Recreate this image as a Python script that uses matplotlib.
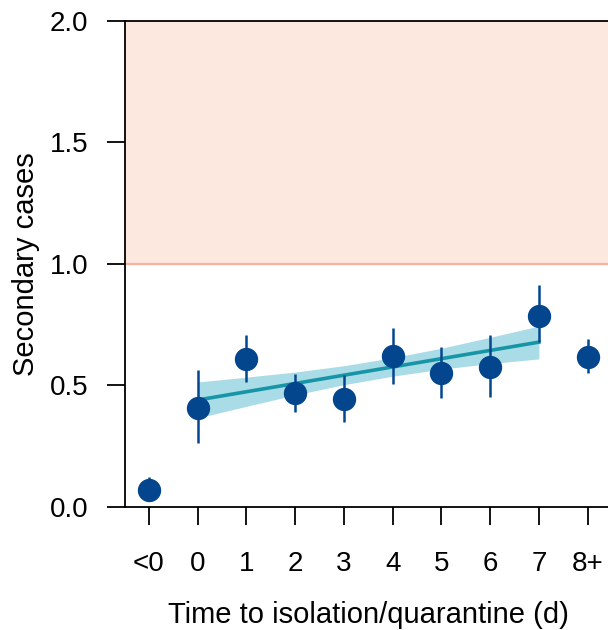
import matplotlib
matplotlib.use("Agg")
import matplotlib.pyplot as plt
import numpy as np

plt.rcParams["font.family"] = ["Liberation Sans", "DejaVu Sans"]

# data
days = ["<0", "0", "1", "2", "3", "4", "5", "6", "7", "8+"]
cases = [0.070, 0.407, 0.609, 0.469, 0.444, 0.621, 0.551, 0.576, 0.785, 0.617]
ci_low = [0.030, 0.263, 0.514, 0.391, 0.350, 0.506, 0.448, 0.452, 0.678, 0.551]
ci_high = [0.123, 0.563, 0.707, 0.547, 0.543, 0.736, 0.658, 0.707, 0.913, 0.691]

# trend fit over days 0..7 (positions 1..8 on the axis)
fit_x = [1, 2, 3, 4, 5, 6, 7, 8]
fit_y = [0.440, 0.474, 0.508, 0.542, 0.576, 0.610, 0.644, 0.678]
fit_low = [0.366, 0.414, 0.461, 0.503, 0.538, 0.567, 0.590, 0.609]
fit_high = [0.514, 0.534, 0.555, 0.581, 0.614, 0.653, 0.698, 0.744]

threshold = 1.0
ymax = 2.0

fig = plt.figure(figsize=(6.08, 6.30), dpi=100)
ax = fig.add_axes([124.5 / 608, 1 - 507 / 630, (612 - 124.5) / 608, (507 - 20.7) / 630])

x = np.arange(len(days))
ax.axhspan(threshold, ymax, color="#fde8e0", lw=0, zorder=0)
ax.axhline(threshold, color="#f7b39a", lw=1.6, zorder=1)

ax.fill_between(fit_x, fit_low, fit_high, color="#a9dce6", lw=0, zorder=2)
ax.plot(fit_x, fit_y, color="#1795a6", lw=2.6, zorder=3)

yerr = [np.array(cases) - np.array(ci_low), np.array(ci_high) - np.array(cases)]
ax.errorbar(x, cases, yerr=yerr, fmt="o", color="#03468e", ms=15.8,
            elinewidth=1.8, capsize=0, zorder=4)

ax.set_xlim(-0.5, 9.5)
ax.set_ylim(0, ymax)
ax.set_yticks([0, 0.5, 1.0, 1.5, 2.0])
ax.set_yticklabels(["0.0", "0.5", "1.0", "1.5", "2.0"])
ax.set_xticks(x)
ax.set_xticklabels(days)
ax.tick_params(axis="both", direction="out", length=13, width=1.3, labelsize=20, colors="black")
ax.tick_params(axis="x", pad=19)
ax.tick_params(axis="y", pad=13)
for s in ax.spines.values():
    s.set_linewidth(1.3)

ax.set_xlabel("Time to isolation/quarantine (d)", fontsize=21, labelpad=17)
ax.set_ylabel("Secondary cases", fontsize=21, labelpad=7)

fig.savefig("out.png", dpi=100)
